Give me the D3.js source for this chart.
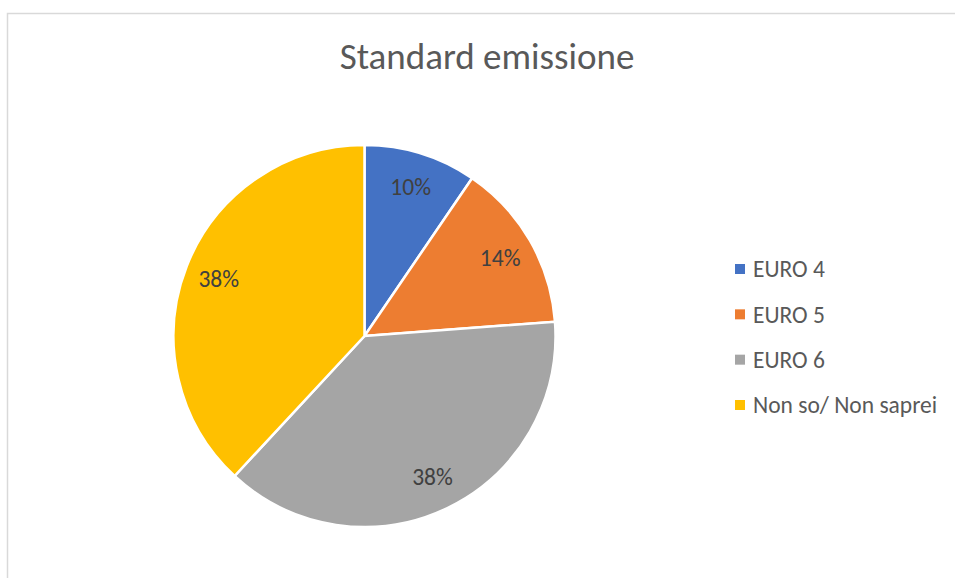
<!DOCTYPE html>
<html>
<head>
<meta charset="utf-8">
<script src="https://cdn.jsdelivr.net/npm/d3@7"></script>
<style>
  body { margin: 0; background: #fff; }
  svg { display: block; font-family: Calibri, Carlito, Lato, sans-serif; }
</style>
</head>
<body>
<div class="canvas"></div>
<script>
// Data
const categories = ['EURO 4', 'EURO 5', 'EURO 6', 'Non so/ Non saprei'];
const counts = [4, 6, 16, 16];
const colors = ['#4472c4', '#ed7d31', '#a5a5a5', '#ffc000'];

const width = 955, height = 578;
const radius = 191;

const svg = d3.select('.canvas')
    .append('svg')
    .attr('width', width)
    .attr('height', height);

// chart frame
svg.append('rect')
    .attr('x', 7.5).attr('y', 13.5)
    .attr('width', 960).attr('height', 600)
    .attr('fill', 'none')
    .attr('stroke', '#d9d9d9')
    .attr('stroke-width', 1.5);

svg.append('text')
    .attr('x', 487).attr('y', 69)
    .attr('text-anchor', 'middle')
    .attr('fill', '#595959')
    .style('font-size', '37px')
    .text('Standard emissione');

const g = svg.append('g')
    .attr('transform', 'translate(364.5,336)');

const total = d3.sum(counts);
const pie = d3.pie().sort(null).value(d => d)(counts);

const arc = d3.arc().innerRadius(0).outerRadius(radius);
const labelArc = d3.arc().innerRadius(radius * 0.82).outerRadius(radius * 0.82);

g.selectAll('path')
    .data(pie)
    .enter().append('path')
    .attr('d', arc)
    .attr('fill', (d, i) => colors[i])
    .attr('stroke', '#fff')
    .attr('stroke-width', 2.5);

g.selectAll('text')
    .data(pie)
    .enter().append('text')
    .attr('transform', d => 'translate(' + labelArc.centroid(d) + ')')
    .attr('text-anchor', 'middle')
    .attr('dy', '0.35em')
    .attr('fill', '#404040')
    .style('font-size', '23.5px')
    .text(d => d3.format('.0%')(d.data / total));

// Legend
const y = d3.scalePoint().domain(categories).range([269, 405]);
const legend = svg.selectAll('g.legend')
    .data(categories)
    .enter().append('g')
    .attr('class', 'legend')
    .attr('transform', d => 'translate(735,' + y(d) + ')');

legend.append('rect')
    .attr('x', 0).attr('y', -5)
    .attr('width', 10).attr('height', 10)
    .attr('fill', (d, i) => colors[i]);

legend.append('text')
    .attr('x', 18)
    .attr('dy', '0.35em')
    .attr('fill', '#595959')
    .style('font-size', '23.5px')
    .text(d => d);
</script>
</body>
</html>
